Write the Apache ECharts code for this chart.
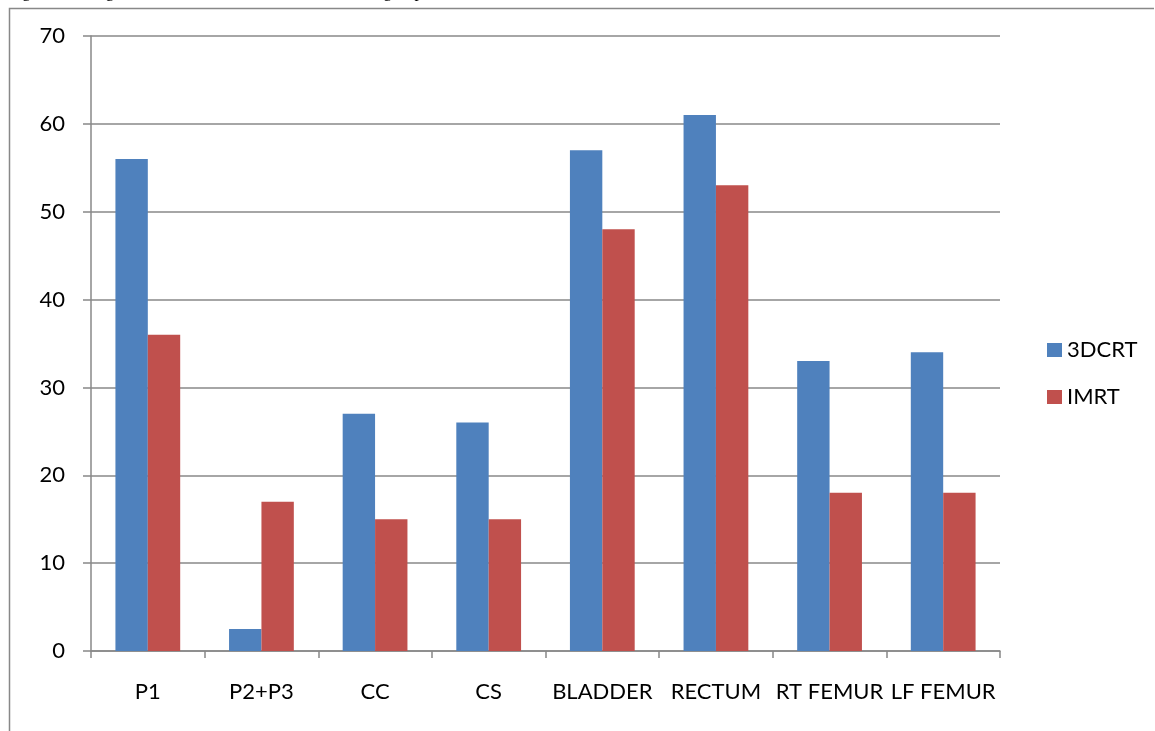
<!DOCTYPE html>
<html>
<head>
<meta charset="utf-8">
<script src="https://cdn.jsdelivr.net/npm/echarts@6/dist/echarts.min.js"></script>
<style>
html,body{margin:0;padding:0;background:#fff;}
#chart{width:1155px;height:731px;}
</style>
</head>
<body>
<div id="chart"></div>
<script>
const categories = ['P1', 'P2+P3', 'CC', 'CS', 'BLADDER', 'RECTUM', 'RT FEMUR', 'LF FEMUR'];
const series3DCRT = [56, 2.5, 27, 26, 57, 61, 33, 34];
const seriesIMRT = [36, 17, 15, 15, 48, 53, 18, 18];
const seriesNames = ['3DCRT', 'IMRT'];
const yTicks = { min: 0, max: 70, interval: 10 };
const caption = 'Figure showing mean dose difference between the two groups.';

const font = 'Lato, sans-serif';
const chart = echarts.init(document.getElementById('chart'));
chart.setOption({
  animation: false,
  backgroundColor: '#fff',
  grid: { left: 91, right: 155, top: 36, bottom: 80, containLabel: false },
  legend: {
    orient: 'vertical', left: 1042, top: 334,
    itemWidth: 15, itemHeight: 14, itemGap: 25, itemTextGap: 6,
    icon: 'rect',
    textStyle: { fontFamily: font, fontSize: 22, color: '#000' },
    data: seriesNames
  },
  xAxis: {
    type: 'category', data: categories,
    axisLine: { lineStyle: { color: '#888', width: 1.5 } },
    axisTick: { show: true, length: 7, alignWithLabel: false, lineStyle: { color: '#888', width: 1.5 } },
    axisLabel: { fontFamily: font, fontSize: 22, color: '#000', margin: 30, interval: 0 }
  },
  yAxis: {
    type: 'value', min: yTicks.min, max: yTicks.max, interval: yTicks.interval,
    axisLine: { show: true, lineStyle: { color: '#888', width: 1.5 } },
    axisTick: { show: true, length: 8, lineStyle: { color: '#888', width: 1.5 } },
    axisLabel: { fontFamily: font, fontSize: 22, color: '#000', margin: 26 },
    splitLine: { show: true, lineStyle: { color: '#888', width: 1.5 } }
  },
  series: [
    { name: seriesNames[0], type: 'bar', data: series3DCRT, barGap: '0%', barCategoryGap: '43%',
      itemStyle: { color: '#4F81BD' } },
    { name: seriesNames[1], type: 'bar', data: seriesIMRT, barGap: '0%', barCategoryGap: '43%',
      itemStyle: { color: '#C0504D' } }
  ],
  graphic: [
    { type: 'text', left: 8, top: -16, silent: true,
      style: { text: caption, font: '17px "Liberation Serif", serif', fill: '#000' } },
    { type: 'polyline', silent: true,
      shape: { points: [[9.5, 731], [9.5, 8.5], [1154, 8.5]] },
      style: { stroke: '#888', lineWidth: 1.5, fill: null } }
  ]
});
</script>
</body>
</html>
